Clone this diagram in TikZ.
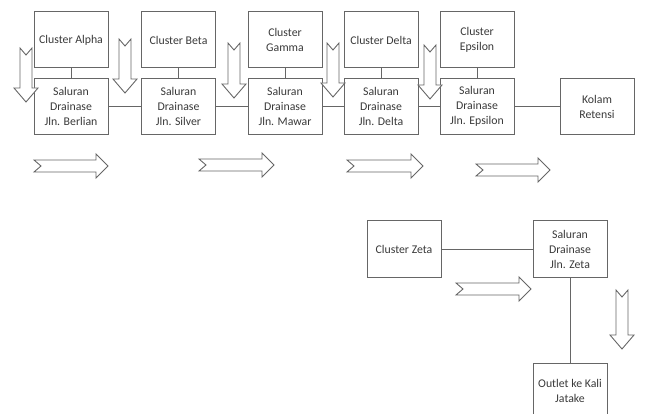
\documentclass[tikz,border=0pt]{standalone}
\usepackage{fontspec}
\setmainfont{Carlito}
\definecolor{ln}{HTML}{666666}
\definecolor{tx}{HTML}{3A3A3A}
\tikzset{
  box/.style={draw=ln, line width=1pt, fill=white, minimum width=74pt, minimum height=56pt,
    inner sep=1pt, align=center, text=tx, font=\fontsize{11.8}{15}\selectfont},
  conn/.style={draw=ln, line width=1pt},
  blockarrow/.style={draw=ln, line width=0.9pt, fill=white, line join=miter}
}
\newcommand{\downarr}[3]{% cx, top, tip
  \draw[blockarrow] ({#1-6},#2) -- (#1,{#2+7}) -- ({#1+6},#2) -- ({#1+6},{#3-14}) -- ({#1+12},{#3-14})
    -- (#1,#3) -- ({#1-12},{#3-14}) -- ({#1-6},{#3-14}) -- cycle;}
\newcommand{\rightarr}[3]{% left x, tip x, cy
  \draw[blockarrow] (#1,{#3-6}) -- ({#2-12},{#3-6}) -- ({#2-12},{#3-12}) -- (#2,#3) -- ({#2-12},{#3+12})
    -- ({#2-12},{#3+6}) -- (#1,{#3+6}) -- ({#1+7},#3) -- cycle;}
\begin{document}
\begin{tikzpicture}[x=1pt,y=-1pt]
\useasboundingbox (0,0) rectangle (645,414);
\clip (0,0) rectangle (645,414);
% top clusters
\node[box] (ca) at (71,40) {Cluster Alpha};
\node[box] (cb) at (178.5,40) {Cluster Beta};
\node[box] (cg) at (285,40) {Cluster\\Gamma};
\node[box] (cd) at (381,40) {Cluster Delta};
\node[box] (ce) at (477,40) {Cluster\\Epsilon};
% channels
\node[box] (sb) at (71,106.5) {Saluran\\Drainase\\Jln. Berlian};
\node[box] (ss) at (178.5,106.5) {Saluran\\Drainase\\Jln. Silver};
\node[box] (sm) at (285,106.5) {Saluran\\Drainase\\Jln. Mawar};
\node[box] (sd) at (381,106.5) {Saluran\\Drainase\\Jln. Delta};
\node[box] (se) at (477,106.5) {Saluran\\Drainase\\Jln. Epsilon};
\node[box] (kr) at (597,106.5) {Kolam\\Retensi};
% zeta
\node[box] (cz) at (404,249) {Cluster Zeta};
\node[box] (sz) at (570,249) {Saluran\\Drainase\\Jln. Zeta};
\node[box] (ol) at (570,391) {Outlet ke Kali\\Jatake};
% connectors
\draw[conn] (ca) -- (sb);
\draw[conn] (cb) -- (ss);
\draw[conn] (cg) -- (sm);
\draw[conn] (cd) -- (sd);
\draw[conn] (ce) -- (se);
\draw[conn] (sb) -- (ss);
\draw[conn] (ss) -- (sm);
\draw[conn] (sm) -- (sd);
\draw[conn] (sd) -- (se);
\draw[conn] (se) -- (kr);
\draw[conn] (cz) -- (sz);
\draw[conn] (sz) -- (ol);
% block arrows
\downarr{26}{48}{102}
\downarr{125}{39}{93}
\downarr{234}{43}{98}
\downarr{333}{43}{97}
\downarr{430}{45}{99}
\downarr{622}{290}{349}
\rightarr{34}{108}{166}
\rightarr{199}{274}{165}
\rightarr{347}{423}{166}
\rightarr{476}{550}{170}
\rightarr{456}{531}{289}
\end{tikzpicture}
\end{document}
